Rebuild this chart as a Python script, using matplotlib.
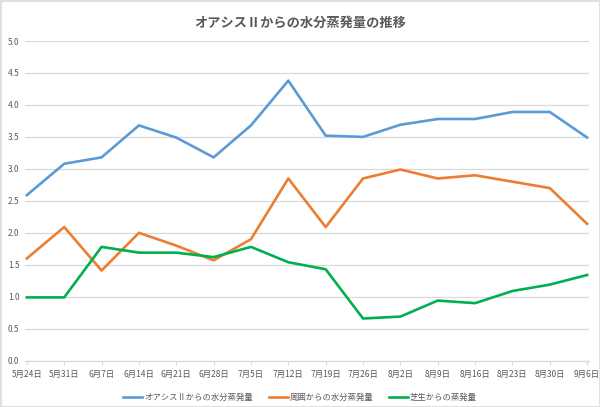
import matplotlib
matplotlib.use("Agg")
import matplotlib.pyplot as plt
from matplotlib.patches import Rectangle

plt.rcParams['font.family'] = ['Noto Sans CJK JP', 'DejaVu Sans']

dates = ["5月24日", "5月31日", "6月7日", "6月14日", "6月21日", "6月28日", "7月5日", "7月12日",
         "7月19日", "7月26日", "8月2日", "8月9日", "8月16日", "8月23日", "8月30日", "9月6日"]
oasis = [2.59, 3.08, 3.18, 3.68, 3.49, 3.18, 3.68, 4.38, 3.52, 3.50, 3.69, 3.78, 3.78, 3.89, 3.89, 3.49]
around = [1.60, 2.09, 1.41, 2.00, 1.80, 1.57, 1.90, 2.85, 2.09, 2.85, 2.99, 2.85, 2.90, 2.80, 2.70, 2.14]
grass = [0.99, 0.99, 1.78, 1.69, 1.69, 1.62, 1.78, 1.54, 1.43, 0.66, 0.69, 0.94, 0.90, 1.09, 1.19, 1.34]
series_names = ["オアシスⅡからの水分蒸発量", "周囲からの水分蒸発量", "芝生からの蒸発量"]
colors = ["#5B9BD5", "#ED7D31", "#00B050"]
yticks = [0.0, 0.5, 1.0, 1.5, 2.0, 2.5, 3.0, 3.5, 4.0, 4.5, 5.0]

fig = plt.figure(figsize=(6.0, 4.07), dpi=100)
ax = fig.add_axes([25/600, 46.3/407, 564/600, 319.7/407])

x = list(range(len(dates)))
for vals, name, c in zip([oasis, around, grass], series_names, colors):
    ax.plot(x, vals, color=c, lw=1.9, label=name, solid_joinstyle='round')

ax.set_ylim(0, 5)
ax.set_xlim(-0.05, 15.05)
ax.set_yticks(yticks)
ax.set_yticklabels([f"{v:.1f}" for v in yticks])
ax.set_xticks(x)
ax.set_xticklabels(dates)
ax.grid(axis='y', color='#D9D9D9', lw=0.9)
ax.set_axisbelow(True)
for s in ['top', 'right', 'left']:
    ax.spines[s].set_visible(False)
ax.spines['bottom'].set_color('#D9D9D9')
ax.spines['bottom'].set_linewidth(0.9)
ax.tick_params(axis='y', length=0, labelsize=6, labelcolor='#595959', pad=4)
ax.tick_params(axis='x', length=3, color='#D9D9D9', labelsize=6, labelcolor='#595959', pad=4)

fig.suptitle("オアシスⅡからの水分蒸発量の推移", x=0.5, y=0.962, fontsize=9.5,
             fontweight='bold', color='#595959', va='top')

leg = fig.legend(loc='center', bbox_to_anchor=(0.5, 0.024), ncol=3, frameon=False,
                 fontsize=6, handlelength=2.3, columnspacing=1.9, handletextpad=0.2)
for t in leg.get_texts():
    t.set_color('#595959')

fig.patches.append(Rectangle((0.5/600, 0.5/407), 1 - 1/600, 1 - 1/407, transform=fig.transFigure,
                             fill=False, edgecolor='#D9D9D9', lw=1.2))

fig.savefig("out.png", dpi=100, facecolor='white')
